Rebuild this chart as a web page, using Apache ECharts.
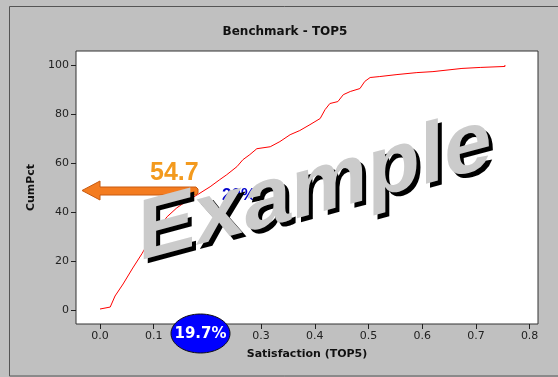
<!DOCTYPE html>
<html>
<head>
<meta charset="utf-8">
<script src="https://cdn.jsdelivr.net/npm/echarts@6/dist/echarts.min.js"></script>
<style>
  html, body { margin: 0; padding: 0; background: #c0c0c0; }
  #chart { width: 558px; height: 377px; }
</style>
</head>
<body>
<div id="chart"></div>
<script>
// cumulative distribution
const satX = [0.000, 0.019, 0.028, 0.043, 0.061, 0.078, 0.093, 0.106, 0.125, 0.143,
  0.162, 0.181, 0.205, 0.223, 0.236, 0.255, 0.266, 0.279, 0.292, 0.317,
  0.335, 0.354, 0.372, 0.391, 0.410, 0.419, 0.428, 0.443, 0.453, 0.466,
  0.484, 0.493, 0.503, 0.521, 0.553, 0.590, 0.620, 0.674, 0.708, 0.754, 0.754]
const cumPct = [0.6, 1.4, 5.9, 10.8, 17.3, 23.1, 28.8, 32.9, 38.2, 41.8,
  44.7, 47.1, 50.4, 53.3, 55.3, 58.6, 61.4, 63.5, 65.9, 66.7,
  68.8, 71.6, 73.3, 75.7, 78.2, 81.8, 84.3, 85.1, 87.9, 89.2,
  90.4, 93.3, 94.9, 95.3, 96.1, 96.9, 97.3, 98.6, 99.0, 99.4, 100]

const xTicks = [0, 0.1, 0.2, 0.3, 0.4, 0.5, 0.6, 0.7, 0.8]
const yTicks = [0, 20, 40, 60, 80, 100]

const chart = echarts.init(document.getElementById('chart'))

const font = '"DejaVu Sans", sans-serif'

// watermark is sheared (baseline rises ~15deg, verticals stay upright);
// shear = rotate(a) * scale(sx, sy) * rotate(b)
const shearA = 0.8519
const shearB = -0.7187
const shearSx = 1.1429
const shearSy = 0.87496

function watermark(x, y, color) {
  return {
    type: 'group',
    x: x,
    y: y,
    rotation: shearA,
    z: 60,
    children: [{
      type: 'group',
      scaleX: shearSx,
      scaleY: shearSy,
      children: [{
        type: 'text',
        rotation: shearB,
        z: 60,
        style: {
          text: 'Example',
          font: 'bold 86px "Liberation Sans", Arial, sans-serif',
          fill: color,
          align: 'left',
          verticalAlign: 'bottom',
        },
      }],
    }],
  }
}

const option = {
  backgroundColor: '#c0c0c0',
  animation: false,
  grid: {
    left: 76,
    right: 20,
    top: 51,
    bottom: 53,
    show: true,
    backgroundColor: '#ffffff',
    borderColor: '#333333',
    borderWidth: 1,
  },
  xAxis: {
    type: 'value',
    min: -0.0447,
    max: 0.8156,
    name: 'Satisfaction (TOP5)',
    nameLocation: 'middle',
    nameGap: 25,
    nameTextStyle: { fontFamily: font, fontSize: 11, fontWeight: 'bold', color: '#111' },
    axisLine: { show: false, onZero: false },
    splitLine: { show: false },
    axisTick: {
      show: true,
      length: 5,
      customValues: xTicks,
      lineStyle: { color: '#222' },
    },
    axisLabel: {
      customValues: xTicks,
      margin: 7,
      fontFamily: font,
      fontSize: 11,
      color: '#222',
      formatter: (v) => v.toFixed(1),
    },
  },
  yAxis: {
    type: 'value',
    min: -5.5,
    max: 105.7,
    name: 'CumPct',
    nameLocation: 'middle',
    nameGap: 38,
    nameTextStyle: { fontFamily: font, fontSize: 11, fontWeight: 'bold', color: '#111' },
    axisLine: { show: false, onZero: false },
    splitLine: { show: false },
    axisTick: {
      show: true,
      length: 5,
      customValues: yTicks,
      lineStyle: { color: '#222' },
    },
    axisLabel: {
      customValues: yTicks,
      margin: 7,
      fontFamily: font,
      fontSize: 11,
      color: '#222',
    },
  },
  series: [
    {
      type: 'line',
      data: satX.map((x, i) => [x, cumPct[i]]),
      showSymbol: false,
      lineStyle: { color: '#ff0000', width: 1 },
      z: 2,
    },
  ],
  graphic: [
    // outer frame
    {
      type: 'rect',
      shape: { x: 9.5, y: 6.5, width: 560, height: 369.5 },
      style: { fill: null, stroke: '#555555', lineWidth: 1 },
      z: 1,
    },
    {
      type: 'text',
      x: 285,
      y: 32,
      style: {
        text: 'Benchmark - TOP5',
        font: 'bold 12px ' + font,
        fill: '#111',
        align: 'center',
        verticalAlign: 'middle',
      },
    },
    // orange arrow + label
    {
      type: 'polygon',
      shape: {
        points: [[82, 190.5], [100, 181], [100, 187], [196, 187], [198, 189],
          [198, 193], [196, 195], [100, 195], [100, 200]],
      },
      style: { fill: '#f47c20', stroke: '#c85a10', lineWidth: 1 },
      z: 50,
    },
    {
      type: 'text',
      x: 150,
      y: 173,
      style: {
        text: '54.7',
        font: 'bold 25px "Liberation Sans", Arial, sans-serif',
        fill: '#f39a1e',
        align: 'left',
        verticalAlign: 'middle',
      },
      z: 50,
    },
    {
      type: 'text',
      x: 222,
      y: 195,
      style: {
        text: '20%',
        font: 'bold 17px "Liberation Sans", Arial, sans-serif',
        fill: '#0000cc',
        align: 'left',
        verticalAlign: 'middle',
      },
      z: 50,
    },
    // watermark: black copy as drop shadow, then grey
    watermark(142, 284, '#000000'),
    watermark(138, 280, '#cbcbcb'),
    // blue badge
    {
      type: 'ellipse',
      shape: { cx: 200.5, cy: 333.5, rx: 29.5, ry: 19.5 },
      style: { fill: '#0000ff', stroke: '#111', lineWidth: 1 },
      z: 70,
    },
    {
      type: 'text',
      x: 200.5,
      y: 334,
      style: {
        text: '19.7%',
        font: 'bold 15px "DejaVu Sans", sans-serif',
        fill: '#ffffff',
        align: 'center',
        verticalAlign: 'middle',
      },
      z: 71,
    },
  ],
}

chart.setOption(option)
</script>
</body>
</html>
